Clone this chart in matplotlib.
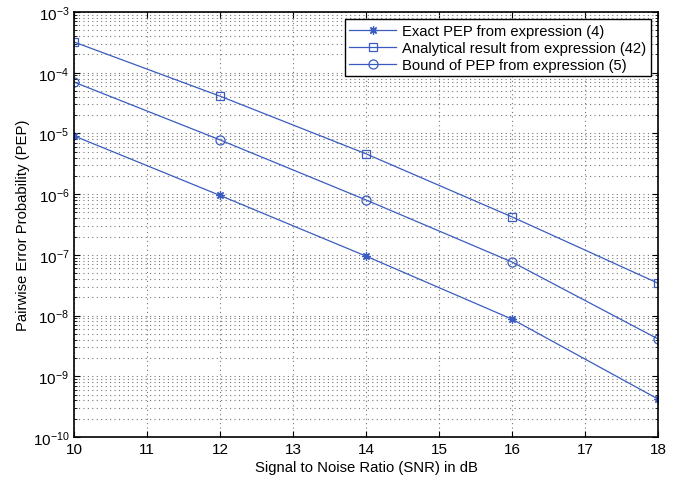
import matplotlib
matplotlib.use("Agg")
import matplotlib.pyplot as plt
from matplotlib.ticker import LogLocator, NullFormatter, FixedLocator

plt.rcParams['font.family'] = ['Liberation Sans', 'DejaVu Sans']
plt.rcParams['mathtext.fontset'] = 'custom'
plt.rcParams['mathtext.rm'] = 'Liberation Sans'

snr = [10, 12, 14, 16, 18]
exact_pep = [9.1e-6, 9.5e-7, 9.5e-8, 8.7e-9, 4.2e-10]
analytical = [3.2e-4, 4.1e-5, 4.6e-6, 4.2e-7, 3.4e-8]
bound = [7.0e-5, 7.8e-6, 8.0e-7, 7.6e-8, 4.1e-9]
labels = ["Exact PEP from expression (4)",
          "Analytical result from expression (42)",
          "Bound of PEP from expression (5)"]
xticks = [10, 11, 12, 13, 14, 15, 16, 17, 18]

color = '#3a5cc0'
fig = plt.figure(figsize=(6.8, 4.81), dpi=100)
ax = fig.add_axes([0.109, 0.0894, 0.859, 0.8836])

ax.semilogy(snr, exact_pep, '-', marker=(8, 2, 0), color=color, lw=0.9, ms=6,
            mfc='none', mec=color, mew=0.9, label=labels[0])
ax.semilogy(snr, analytical, '-', marker='s', color=color, lw=0.9, ms=5.5,
            mfc='none', mec=color, mew=0.9, label=labels[1])
ax.semilogy(snr, bound, '-', marker='o', color=color, lw=0.9, ms=6.5,
            mfc='none', mec=color, mew=0.9, label=labels[2])

ax.set_xlim(10, 18)
ax.set_ylim(1e-10, 1e-3)
ax.xaxis.set_major_locator(FixedLocator(xticks))
ax.yaxis.set_major_locator(LogLocator(base=10, numticks=20))
ax.yaxis.set_minor_locator(LogLocator(base=10, subs=range(2, 10), numticks=20))
ax.yaxis.set_minor_formatter(NullFormatter())

ax.grid(True, which='major', linestyle=(0, (1, 3)), color='#777777', lw=0.8)
ax.grid(True, which='minor', axis='y', linestyle=(0, (1, 3)), color='#777777', lw=0.8)
ax.tick_params(which='both', direction='in', top=True, right=True, labelsize=11)
ax.tick_params(which='major', length=4)
ax.tick_params(which='minor', length=2)
for s in ax.spines.values():
    s.set_linewidth(1.2)

ax.set_xlabel("Signal to Noise Ratio (SNR) in dB", fontsize=10.7, labelpad=3)
ax.set_ylabel("Pairwise Error Probability (PEP)", fontsize=10.7, labelpad=2)

leg = ax.legend(loc='upper right', fontsize=10.6, fancybox=False, framealpha=1,
                edgecolor='black', borderpad=0.3, labelspacing=0.2,
                handlelength=3.2, handletextpad=0.4, borderaxespad=0.5)
leg.get_frame().set_linewidth(1.0)

fig.savefig("out.png", dpi=100)
